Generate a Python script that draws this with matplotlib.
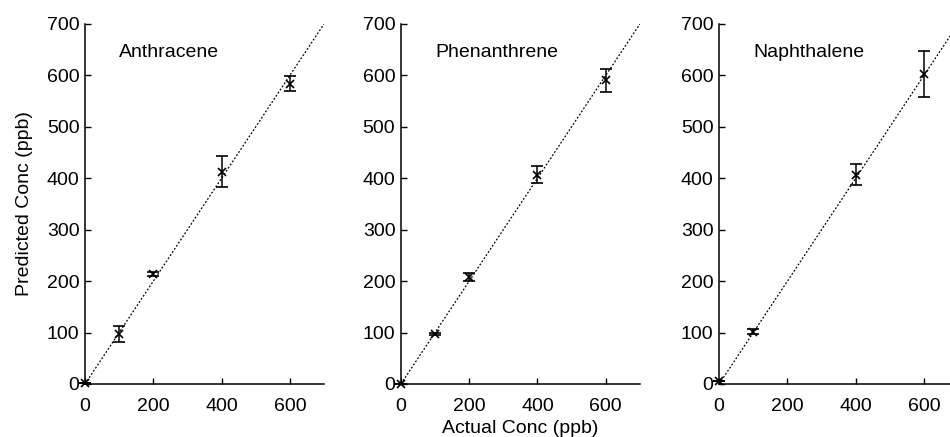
import matplotlib
matplotlib.use("Agg")
import matplotlib.pyplot as plt

plt.rcParams['font.family'] = ['Liberation Sans', 'DejaVu Sans']
plt.rcParams['font.size'] = 14

# Calibration results: actual vs predicted concentration (ppb)
names = ["Anthracene", "Phenanthrene", "Naphthalene"]

anthracene_x = [0, 100, 200, 400, 600]
anthracene_pred = [2, 97, 213, 413, 584]
anthracene_err = [0, 15, 4, 31, 14]

phenanthrene_x = [0, 100, 200, 400, 600]
phenanthrene_pred = [0, 98, 208, 407, 590]
phenanthrene_err = [0, 2, 8, 16, 22]

naphthalene_x = [0, 100, 400, 600]
naphthalene_pred = [5, 102, 407, 602]
naphthalene_err = [0, 4, 21, 45]

series = [
    (anthracene_x, anthracene_pred, anthracene_err),
    (phenanthrene_x, phenanthrene_pred, phenanthrene_err),
    (naphthalene_x, naphthalene_pred, naphthalene_err),
]

xticks = [0, 200, 400, 600]
yticks = [0, 100, 200, 300, 400, 500, 600, 700]
ideal = [0, 700]

fig = plt.figure(figsize=(9.5, 4.37), dpi=100)
lefts = [0.0895, 0.422, 0.757]
width = 0.2516
bottom = 0.1213
height = 0.824

axes = []
for left, name, (xs, ys, es) in zip(lefts, names, series):
    ax = fig.add_axes([left, bottom, width, height])
    ax.plot(ideal, ideal, linestyle=(0, (1.5, 1.5)), color="black", lw=0.9)
    ax.errorbar(xs, ys, yerr=es, fmt="x", color="black", ms=6, mew=1.2,
                elinewidth=1.1, capsize=4.6, capthick=1.1, clip_on=False)
    ax.set_xlim(0, 700)
    ax.set_ylim(0, 700)
    ax.set_xticks(xticks)
    ax.set_yticks(yticks)
    ax.tick_params(axis="both", direction="in", length=4, width=1.0,
                   labelsize=14)
    ax.tick_params(axis="x", pad=10)
    ax.tick_params(axis="y", pad=4)
    for side in ("top", "right"):
        ax.spines[side].set_visible(False)
    for side in ("left", "bottom"):
        ax.spines[side].set_linewidth(1.1)
    ax.text(100, 645, name, ha="left", va="center", fontsize=14)
    axes.append(ax)

axes[0].set_ylabel("Predicted Conc (ppb)", fontsize=14, labelpad=10)
axes[1].set_xlabel("Actual Conc (ppb)", fontsize=14, labelpad=4)

fig.savefig("out.png", dpi=100)
